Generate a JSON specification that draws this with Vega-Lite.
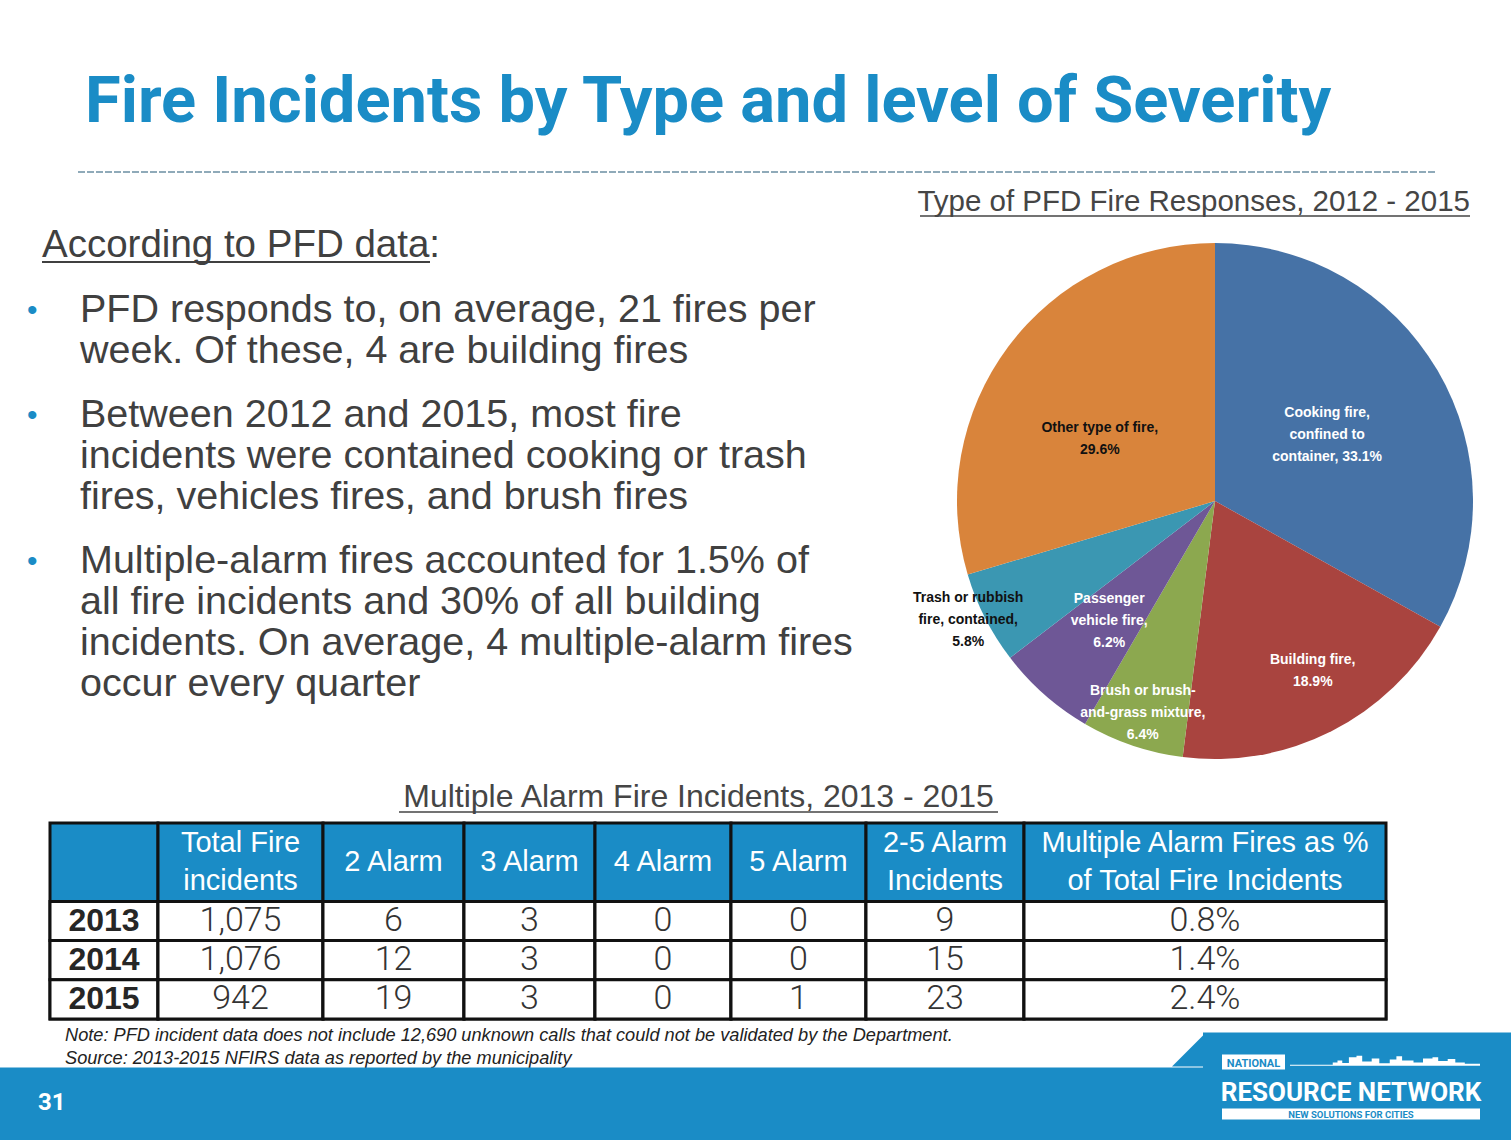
{
  "$schema": "https://vega.github.io/schema/vega-lite/v6.json",
  "padding": 0,
  "background": "white",
  "spacing": 0,
  "bounds": "full",
  "config": {"view": {"stroke": null}, "font": "Liberation Sans"},
  "datasets": {
    "fires": [
      {"type": "Cooking fire, confined to container", "share": 33.1, "order": 1, "label": "Cooking fire,\nconfined to\ncontainer, 33.1%"},
      {"type": "Building fire", "share": 18.9, "order": 2, "label": "Building fire,\n18.9%"},
      {"type": "Brush or brush-and-grass mixture", "share": 6.4, "order": 3, "label": "Brush or brush-\nand-grass mixture,\n6.4%"},
      {"type": "Passenger vehicle fire", "share": 6.2, "order": 4, "label": "Passenger\nvehicle fire,\n6.2%"},
      {"type": "Trash or rubbish fire, contained", "share": 5.8, "order": 5, "label": "Trash or rubbish\nfire, contained,\n5.8%"},
      {"type": "Other type of fire", "share": 29.6, "order": 6, "label": "Other type of fire,\n29.6%"}
    ],
    "alarms": [
      {"year": "2013", "total": 1075, "a2": 6, "a3": 3, "a4": 0, "a5": 0, "a25": 9, "pct": 0.008},
      {"year": "2014", "total": 1076, "a2": 12, "a3": 3, "a4": 0, "a5": 0, "a25": 15, "pct": 0.014},
      {"year": "2015", "total": 942, "a2": 19, "a3": 3, "a4": 0, "a5": 1, "a25": 23, "pct": 0.024}
    ]
  },
  "vconcat": [
    {
      "width": 1511, "height": 221,
      "data": {"values": [{"title": "Fire Incidents by Type and level of Severity", "pie_title": "Type of PFD Fire Responses, 2012 - 2015"}]},
      "layer": [
        {"mark": {"type": "text", "font": "Roboto", "fontWeight": "bold", "fontSize": 65, "fill": "#1a8cc6", "align": "left", "baseline": "alphabetic"},
         "encoding": {"x": {"value": 85}, "y": {"value": 122}, "text": {"field": "title"}}},
        {"mark": {"type": "rule", "stroke": "#6b8fa3", "strokeWidth": 1.5, "strokeDash": [7, 2]},
         "encoding": {"x": {"value": 78}, "x2": {"value": 1435}, "y": {"value": 172}}},
        {"mark": {"type": "text", "fontSize": 29.5, "fill": "#454545", "align": "right", "baseline": "alphabetic"},
         "encoding": {"x": {"value": 1470}, "y": {"value": 211}, "text": {"field": "pie_title"}}},
        {"mark": {"type": "rule", "stroke": "#454545", "strokeWidth": 1.5},
         "encoding": {"x": {"value": 920}, "x2": {"value": 1470}, "y": {"value": 216}}}
      ]
    },
    {
      "spacing": 0,
      "bounds": "flush",
      "hconcat": [
        {
          "width": 957, "height": 560,
          "data": {"values": [{"head": "According to PFD data:", "dot": "•",
            "b1": "PFD responds to, on average, 21 fires per\nweek. Of these, 4 are building fires",
            "b2": "Between 2012 and 2015, most fire\nincidents were contained cooking or trash\nfires, vehicles fires, and brush fires",
            "b3": "Multiple-alarm fires accounted for 1.5% of\nall fire incidents and 30% of all building\nincidents. On average, 4 multiple-alarm fires\noccur every quarter"}]},
          "layer": [
            {"mark": {"type": "text", "fontSize": 38.5, "fill": "#404040", "align": "left", "baseline": "alphabetic"},
             "encoding": {"x": {"value": 42}, "y": {"value": 36}, "text": {"field": "head"}}},
            {"mark": {"type": "rule", "stroke": "#404040", "strokeWidth": 2},
             "encoding": {"x": {"value": 42}, "x2": {"value": 430}, "y": {"value": 41}}},
            {"mark": {"type": "text", "fontSize": 30, "fill": "#1a8cc6", "align": "left", "baseline": "alphabetic"},
             "encoding": {"x": {"value": 27}, "y": {"value": 99}, "text": {"field": "dot"}}},
            {"mark": {"type": "text", "fontSize": 30, "fill": "#1a8cc6", "align": "left", "baseline": "alphabetic"},
             "encoding": {"x": {"value": 27}, "y": {"value": 204}, "text": {"field": "dot"}}},
            {"mark": {"type": "text", "fontSize": 30, "fill": "#1a8cc6", "align": "left", "baseline": "alphabetic"},
             "encoding": {"x": {"value": 27}, "y": {"value": 350}, "text": {"field": "dot"}}},
            {"mark": {"type": "text", "fontSize": 39.5, "fill": "#404040", "align": "left", "baseline": "alphabetic", "lineBreak": "\n", "lineHeight": 41},
             "encoding": {"x": {"value": 80}, "y": {"value": 101}, "text": {"field": "b1"}}},
            {"mark": {"type": "text", "fontSize": 39.5, "fill": "#404040", "align": "left", "baseline": "alphabetic", "lineBreak": "\n", "lineHeight": 41},
             "encoding": {"x": {"value": 80}, "y": {"value": 206}, "text": {"field": "b2"}}},
            {"mark": {"type": "text", "fontSize": 39.5, "fill": "#404040", "align": "left", "baseline": "alphabetic", "lineBreak": "\n", "lineHeight": 41},
             "encoding": {"x": {"value": 80}, "y": {"value": 352}, "text": {"field": "b3"}}}
          ]
        },
        {
          "width": 516, "height": 560,
          "data": {"name": "fires"},
          "encoding": {
            "theta": {"field": "share", "type": "quantitative", "stack": true},
            "order": {"field": "order", "type": "quantitative"},
            "detail": {"field": "type", "type": "nominal"}
          },
          "layer": [
            {"mark": {"type": "arc", "outerRadius": 258},
             "encoding": {"color": {"field": "type", "type": "nominal", "legend": null,
               "scale": {"domain": ["Cooking fire, confined to container", "Building fire", "Brush or brush-and-grass mixture", "Passenger vehicle fire", "Trash or rubbish fire, contained", "Other type of fire"],
                         "range": ["#4672a6", "#a9443f", "#8ca84f", "#6e5796", "#3b97b2", "#d9843b"]}}}},
            {"mark": {"type": "text", "radius": 130, "dy": -22, "fontSize": 14, "fontWeight": "bold", "fill": "white", "lineBreak": "\n", "lineHeight": 22, "baseline": "middle"},
             "encoding": {"text": {"condition": {"test": "datum.order == 1", "field": "label"}, "value": ""}}},
            {"mark": {"type": "text", "radius": 135, "dy": 8, "dx": -7, "fontSize": 14, "fontWeight": "bold", "fill": "#111111", "lineBreak": "\n", "lineHeight": 22, "baseline": "middle"},
             "encoding": {"text": {"condition": {"test": "datum.order == 6", "field": "label"}, "value": ""}}},
            {"mark": {"type": "text", "radius": 190, "dy": -11, "dx": 12, "fontSize": 14, "fontWeight": "bold", "fill": "white", "lineBreak": "\n", "lineHeight": 22, "baseline": "middle"},
             "encoding": {"text": {"condition": {"test": "datum.order == 2", "field": "label"}, "value": ""}}},
            {"mark": {"type": "text", "radius": 225, "dy": -23, "fontSize": 14, "fontWeight": "bold", "fill": "white", "lineBreak": "\n", "lineHeight": 22, "baseline": "middle"},
             "encoding": {"text": {"condition": {"test": "datum.order == 3", "field": "label"}, "value": ""}}},
            {"mark": {"type": "text", "radius": 160, "dy": -22, "fontSize": 14, "fontWeight": "bold", "fill": "white", "lineBreak": "\n", "lineHeight": 22, "baseline": "middle"},
             "encoding": {"text": {"condition": {"test": "datum.order == 4", "field": "label"}, "value": ""}}},
            {"mark": {"type": "text", "radius": 277, "dy": -29, "fontSize": 14, "fontWeight": "bold", "fill": "#111111", "lineBreak": "\n", "lineHeight": 22, "baseline": "middle"},
             "encoding": {"text": {"condition": {"test": "datum.order == 5", "field": "label"}, "value": ""}}}
          ]
        }
      ]
    },
    {
      "width": 1511, "height": 39.5,
      "data": {"values": [{"t": "Multiple Alarm Fire Incidents, 2013 - 2015"}]},
      "layer": [
        {"mark": {"type": "text", "fontSize": 32, "fill": "#454545", "align": "center", "baseline": "alphabetic"},
         "encoding": {"x": {"value": 698.5}, "y": {"value": 26}, "text": {"field": "t"}}},
        {"mark": {"type": "rule", "stroke": "#454545", "strokeWidth": 1.5},
         "encoding": {"x": {"value": 399}, "x2": {"value": 998}, "y": {"value": 31}}}
      ]
    },
    {
      "spacing": 0,
      "bounds": "flush",
      "hconcat": [
        {"width": 50, "height": 196, "data": {"values": []}, "mark": "text"},
        {
          "width": 108, "height": 196, "data": {"name": "alarms"},
          "view": {"fill": "#1a8cc6", "stroke": "#111111", "strokeWidth": 3},
          "layer": [
            {"mark": {"type": "rect", "fill": "white", "stroke": "#111111", "strokeWidth": 3},
             "encoding": {"y": {"field": "year", "type": "ordinal", "axis": null, "scale": {"domain": ["h1", "h2", "2013", "2014", "2015"], "paddingInner": 0, "paddingOuter": 0}}, "x": {"value": 0}, "x2": {"value": "width"}}},
            {"mark": {"type": "text", "fontSize": 32, "fontWeight": "bold", "fill": "#262626", "baseline": "middle"},
             "encoding": {"y": {"field": "year", "type": "ordinal", "axis": null}, "text": {"field": "year"}}}
          ]
        },
        {
          "width": 165, "height": 196, "data": {"name": "alarms"},
          "view": {"fill": "#1a8cc6", "stroke": "#111111", "strokeWidth": 3},
          "layer": [
            {"mark": {"type": "rect", "fill": "white", "stroke": "#111111", "strokeWidth": 3},
             "encoding": {"y": {"field": "year", "type": "ordinal", "axis": null, "scale": {"domain": ["h1", "h2", "2013", "2014", "2015"], "paddingInner": 0, "paddingOuter": 0}}, "x": {"value": 0}, "x2": {"value": "width"}}},
            {"mark": {"type": "text", "font": "Roboto", "fontWeight": 300, "fontSize": 34, "fill": "#333333", "baseline": "middle"},
             "encoding": {"y": {"field": "year", "type": "ordinal", "axis": null}, "text": {"field": "total", "type": "quantitative", "format": ","}}},
            {"data": {"values": [{"h": "Total Fire\nincidents"}]},
             "mark": {"type": "text", "fontSize": 29, "fill": "white", "lineBreak": "\n", "lineHeight": 38, "baseline": "middle", "dy": -19},
             "encoding": {"y": {"datum": "h1", "type": "ordinal", "bandPosition": 1, "axis": null}, "text": {"field": "h"}}}
          ]
        },
        {
          "width": 141, "height": 196, "data": {"name": "alarms"},
          "view": {"fill": "#1a8cc6", "stroke": "#111111", "strokeWidth": 3},
          "layer": [
            {"mark": {"type": "rect", "fill": "white", "stroke": "#111111", "strokeWidth": 3},
             "encoding": {"y": {"field": "year", "type": "ordinal", "axis": null, "scale": {"domain": ["h1", "h2", "2013", "2014", "2015"], "paddingInner": 0, "paddingOuter": 0}}, "x": {"value": 0}, "x2": {"value": "width"}}},
            {"mark": {"type": "text", "font": "Roboto", "fontWeight": 300, "fontSize": 34, "fill": "#333333", "baseline": "middle"},
             "encoding": {"y": {"field": "year", "type": "ordinal", "axis": null}, "text": {"field": "a2", "type": "quantitative"}}},
            {"data": {"values": [{"h": "2 Alarm"}]},
             "mark": {"type": "text", "fontSize": 29, "fill": "white", "lineBreak": "\n", "lineHeight": 38, "baseline": "middle"},
             "encoding": {"y": {"datum": "h1", "type": "ordinal", "bandPosition": 1, "axis": null}, "text": {"field": "h"}}}
          ]
        },
        {
          "width": 131, "height": 196, "data": {"name": "alarms"},
          "view": {"fill": "#1a8cc6", "stroke": "#111111", "strokeWidth": 3},
          "layer": [
            {"mark": {"type": "rect", "fill": "white", "stroke": "#111111", "strokeWidth": 3},
             "encoding": {"y": {"field": "year", "type": "ordinal", "axis": null, "scale": {"domain": ["h1", "h2", "2013", "2014", "2015"], "paddingInner": 0, "paddingOuter": 0}}, "x": {"value": 0}, "x2": {"value": "width"}}},
            {"mark": {"type": "text", "font": "Roboto", "fontWeight": 300, "fontSize": 34, "fill": "#333333", "baseline": "middle"},
             "encoding": {"y": {"field": "year", "type": "ordinal", "axis": null}, "text": {"field": "a3", "type": "quantitative"}}},
            {"data": {"values": [{"h": "3 Alarm"}]},
             "mark": {"type": "text", "fontSize": 29, "fill": "white", "lineBreak": "\n", "lineHeight": 38, "baseline": "middle"},
             "encoding": {"y": {"datum": "h1", "type": "ordinal", "bandPosition": 1, "axis": null}, "text": {"field": "h"}}}
          ]
        },
        {
          "width": 136, "height": 196, "data": {"name": "alarms"},
          "view": {"fill": "#1a8cc6", "stroke": "#111111", "strokeWidth": 3},
          "layer": [
            {"mark": {"type": "rect", "fill": "white", "stroke": "#111111", "strokeWidth": 3},
             "encoding": {"y": {"field": "year", "type": "ordinal", "axis": null, "scale": {"domain": ["h1", "h2", "2013", "2014", "2015"], "paddingInner": 0, "paddingOuter": 0}}, "x": {"value": 0}, "x2": {"value": "width"}}},
            {"mark": {"type": "text", "font": "Roboto", "fontWeight": 300, "fontSize": 34, "fill": "#333333", "baseline": "middle"},
             "encoding": {"y": {"field": "year", "type": "ordinal", "axis": null}, "text": {"field": "a4", "type": "quantitative"}}},
            {"data": {"values": [{"h": "4 Alarm"}]},
             "mark": {"type": "text", "fontSize": 29, "fill": "white", "lineBreak": "\n", "lineHeight": 38, "baseline": "middle"},
             "encoding": {"y": {"datum": "h1", "type": "ordinal", "bandPosition": 1, "axis": null}, "text": {"field": "h"}}}
          ]
        },
        {
          "width": 135, "height": 196, "data": {"name": "alarms"},
          "view": {"fill": "#1a8cc6", "stroke": "#111111", "strokeWidth": 3},
          "layer": [
            {"mark": {"type": "rect", "fill": "white", "stroke": "#111111", "strokeWidth": 3},
             "encoding": {"y": {"field": "year", "type": "ordinal", "axis": null, "scale": {"domain": ["h1", "h2", "2013", "2014", "2015"], "paddingInner": 0, "paddingOuter": 0}}, "x": {"value": 0}, "x2": {"value": "width"}}},
            {"mark": {"type": "text", "font": "Roboto", "fontWeight": 300, "fontSize": 34, "fill": "#333333", "baseline": "middle"},
             "encoding": {"y": {"field": "year", "type": "ordinal", "axis": null}, "text": {"field": "a5", "type": "quantitative"}}},
            {"data": {"values": [{"h": "5 Alarm"}]},
             "mark": {"type": "text", "fontSize": 29, "fill": "white", "lineBreak": "\n", "lineHeight": 38, "baseline": "middle"},
             "encoding": {"y": {"datum": "h1", "type": "ordinal", "bandPosition": 1, "axis": null}, "text": {"field": "h"}}}
          ]
        },
        {
          "width": 158, "height": 196, "data": {"name": "alarms"},
          "view": {"fill": "#1a8cc6", "stroke": "#111111", "strokeWidth": 3},
          "layer": [
            {"mark": {"type": "rect", "fill": "white", "stroke": "#111111", "strokeWidth": 3},
             "encoding": {"y": {"field": "year", "type": "ordinal", "axis": null, "scale": {"domain": ["h1", "h2", "2013", "2014", "2015"], "paddingInner": 0, "paddingOuter": 0}}, "x": {"value": 0}, "x2": {"value": "width"}}},
            {"mark": {"type": "text", "font": "Roboto", "fontWeight": 300, "fontSize": 34, "fill": "#333333", "baseline": "middle"},
             "encoding": {"y": {"field": "year", "type": "ordinal", "axis": null}, "text": {"field": "a25", "type": "quantitative"}}},
            {"data": {"values": [{"h": "2-5 Alarm\nIncidents"}]},
             "mark": {"type": "text", "fontSize": 29, "fill": "white", "lineBreak": "\n", "lineHeight": 38, "baseline": "middle", "dy": -19},
             "encoding": {"y": {"datum": "h1", "type": "ordinal", "bandPosition": 1, "axis": null}, "text": {"field": "h"}}}
          ]
        },
        {
          "width": 362, "height": 196, "data": {"name": "alarms"},
          "view": {"fill": "#1a8cc6", "stroke": "#111111", "strokeWidth": 3},
          "layer": [
            {"mark": {"type": "rect", "fill": "white", "stroke": "#111111", "strokeWidth": 3},
             "encoding": {"y": {"field": "year", "type": "ordinal", "axis": null, "scale": {"domain": ["h1", "h2", "2013", "2014", "2015"], "paddingInner": 0, "paddingOuter": 0}}, "x": {"value": 0}, "x2": {"value": "width"}}},
            {"mark": {"type": "text", "font": "Roboto", "fontWeight": 300, "fontSize": 34, "fill": "#333333", "baseline": "middle"},
             "encoding": {"y": {"field": "year", "type": "ordinal", "axis": null}, "text": {"field": "pct", "type": "quantitative", "format": ".1%"}}},
            {"data": {"values": [{"h": "Multiple Alarm Fires as %\nof Total Fire Incidents"}]},
             "mark": {"type": "text", "fontSize": 29, "fill": "white", "lineBreak": "\n", "lineHeight": 38, "baseline": "middle", "dy": -19},
             "encoding": {"y": {"datum": "h1", "type": "ordinal", "bandPosition": 1, "axis": null}, "text": {"field": "h"}}}
          ]
        }
      ]
    },
    {
      "width": 1511, "height": 120.5,
      "data": {"values": [{"note": "Note:  PFD incident data does not include 12,690 unknown calls that could not be validated by the Department.", "source": "Source: 2013-2015 NFIRS data as reported by the municipality", "page": "31", "n": "NATIONAL", "r": "RESOURCE NETWORK", "s": "NEW SOLUTIONS FOR CITIES"}]},
      "layer": [
        {"mark": {"type": "text", "fontSize": 18.2, "fontStyle": "italic", "fill": "#222222", "align": "left", "baseline": "alphabetic"},
         "encoding": {"x": {"value": 65}, "y": {"value": 18.5}, "text": {"field": "note"}}},
        {"mark": {"type": "text", "fontSize": 18.2, "fontStyle": "italic", "fill": "#222222", "align": "left", "baseline": "alphabetic"},
         "encoding": {"x": {"value": 65}, "y": {"value": 41.5}, "text": {"field": "source"}}},
        {"mark": {"type": "rect", "fill": "#1a8cc6"},
         "encoding": {"x": {"value": 0}, "x2": {"value": "width"}, "y": {"value": 45.5}, "y2": {"value": "height"}}},
        {"mark": {"type": "rect", "fill": "#1a8cc6"},
         "encoding": {"x": {"value": 1203}, "x2": {"value": "width"}, "y": {"value": 10.5}, "y2": {"value": 46.5}}},
        {"mark": {"type": "point", "filled": true, "opacity": 1, "strokeWidth": 0, "fill": "#1a8cc6", "size": 1024, "shape": "M 1 -1 L 1 1 L -1 1 Z"},
         "encoding": {"x": {"value": 1188}, "y": {"value": 28.5}}},
        {"mark": {"type": "text", "font": "Roboto", "fontSize": 24, "fontWeight": "bold", "fill": "white", "align": "left", "baseline": "alphabetic"},
         "encoding": {"x": {"value": 38}, "y": {"value": 87.5}, "text": {"field": "page"}}},
        {"mark": {"type": "rect", "fill": "white"},
         "encoding": {"x": {"value": 1222}, "x2": {"value": 1285}, "y": {"value": 32.5}, "y2": {"value": 47.5}}},
        {"mark": {"type": "text", "font": "Roboto", "fontSize": 11, "fontWeight": "bold", "fill": "#1a8cc6", "align": "center", "baseline": "alphabetic"},
         "encoding": {"x": {"value": 1253.5}, "y": {"value": 44.5}, "text": {"field": "n"}}},
        {"mark": {"type": "point", "filled": true, "opacity": 1, "strokeWidth": 0, "fill": "white", "size": 36100,
                  "shape": "M -1 0.055 L -1 0.045 L -0.55 0.045 L -0.55 0.02 L -0.5 0.02 L -0.5 0 L -0.45 0 L -0.45 0.025 L -0.38 0.025 L -0.38 -0.035 L -0.3 -0.035 L -0.3 -0.05 L -0.24 -0.05 L -0.24 0.01 L -0.14 0.01 L -0.14 -0.02 L -0.06 -0.02 L -0.06 0.03 L 0.05 0.03 L 0.05 -0.01 L 0.12 -0.01 L 0.12 -0.045 L 0.18 -0.045 L 0.18 0 L 0.3 0 L 0.3 0.02 L 0.4 0.02 L 0.4 -0.02 L 0.5 -0.02 L 0.5 -0.035 L 0.56 -0.035 L 0.56 0.005 L 0.66 0.005 L 0.66 -0.015 L 0.74 -0.015 L 0.74 0.02 L 0.84 0.02 L 0.84 0.035 L 1 0.035 L 1 0.055 Z"},
         "encoding": {"x": {"value": 1385}, "y": {"value": 38.5}}},
        {"mark": {"type": "text", "font": "Roboto", "fontSize": 26, "fontWeight": "bold", "fill": "white", "align": "center", "baseline": "alphabetic"},
         "encoding": {"x": {"value": 1351}, "y": {"value": 78.5}, "text": {"field": "r"}}},
        {"mark": {"type": "rect", "fill": "white"},
         "encoding": {"x": {"value": 1222}, "x2": {"value": 1480}, "y": {"value": 86.5}, "y2": {"value": 97.5}}},
        {"mark": {"type": "text", "font": "Roboto", "fontSize": 9.5, "fontWeight": "bold", "fill": "#1a8cc6", "align": "center", "baseline": "alphabetic"},
         "encoding": {"x": {"value": 1351}, "y": {"value": 96}, "text": {"field": "s"}}}
      ]
    }
  ]
}
